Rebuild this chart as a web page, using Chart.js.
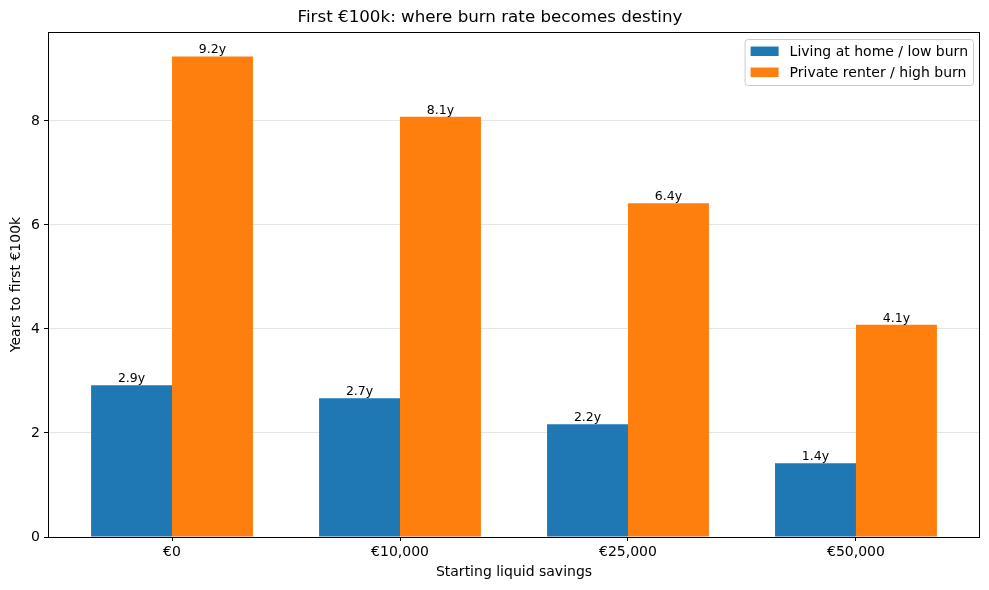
<!DOCTYPE html>
<html>
<head>
<meta charset="utf-8">
<script src="https://cdn.jsdelivr.net/npm/chart.js@4/dist/chart.umd.min.js"></script>
<style>
  html, body { margin: 0; padding: 0; background: #fff; }
</style>
</head>
<body>
<canvas id="chart" width="989" height="590"></canvas>
<script>
// data
const categories = ['€0', '€10,000', '€25,000', '€50,000'];
const lowBurn = [2.92, 2.67, 2.17, 1.42];
const highBurn = [9.24, 8.08, 6.42, 4.08];
const yTicks = [0, 2, 4, 6, 8];

const FONT = "'DejaVu Sans', sans-serif";

const frame = {
  id: 'frame',
  afterDraw(chart) {
    const { ctx, chartArea: a } = chart;
    ctx.save();
    ctx.strokeStyle = '#000';
    ctx.lineWidth = 1;
    ctx.strokeRect(Math.round(a.left) + 0.5, Math.round(a.top) + 0.5,
      Math.round(a.right - a.left) - 1, Math.round(a.bottom - a.top));
    ctx.restore();
  }
};

const barLabels = {
  id: 'barLabels',
  afterDatasetsDraw(chart) {
    const { ctx } = chart;
    ctx.save();
    ctx.font = '12.5px ' + FONT;
    ctx.fillStyle = '#000';
    ctx.textAlign = 'center';
    ctx.textBaseline = 'bottom';
    chart.data.datasets.forEach((ds, i) => {
      chart.getDatasetMeta(i).data.forEach((el, j) => {
        ctx.fillText(ds.data[j].y.toFixed(1) + 'y', el.x, el.y);
      });
    });
    ctx.restore();
  }
};

const innerLegend = {
  id: 'innerLegend',
  afterDraw(chart) {
    const { ctx, chartArea: a } = chart;
    const sets = chart.data.datasets;
    ctx.save();
    ctx.font = '14px ' + FONT;
    const textW = Math.max(...sets.map(d => ctx.measureText(d.label).width));
    const w = 45 + textW + 5, h = 46;
    const x = a.right - 7 - w, y = a.top + 7;
    ctx.beginPath();
    ctx.roundRect(x + 0.5, y + 0.5, w, h, 3);
    ctx.fillStyle = 'rgba(255,255,255,0.8)';
    ctx.fill();
    ctx.strokeStyle = '#cccccc';
    ctx.lineWidth = 1;
    ctx.stroke();
    sets.forEach((d, i) => {
      const cy = y + 12 + i * 21;
      ctx.fillStyle = d.backgroundColor;
      ctx.fillRect(x + 6, cy - 4.5, 28, 9.5);
      ctx.fillStyle = '#000';
      ctx.textBaseline = 'middle';
      ctx.fillText(d.label, x + 45, cy + 1);
    });
    ctx.restore();
  }
};

new Chart(document.getElementById('chart'), {
  type: 'bar',
  data: {
    datasets: [
      {
        label: 'Living at home / low burn',
        data: lowBurn.map((v, i) => ({ x: i, y: v })),
        backgroundColor: '#1f77b4',
      },
      {
        label: 'Private renter / high burn',
        data: highBurn.map((v, i) => ({ x: i, y: v })),
        backgroundColor: '#ff7f0e',
      },
    ],
  },
  options: {
    responsive: false,
    animation: false,
    categoryPercentage: 0.71,
    barPercentage: 1.0,
    layout: { padding: { top: 0, right: 9, bottom: 0, left: 0 } },
    plugins: {
      legend: { display: false },
      tooltip: { enabled: false },
      title: {
        display: true,
        text: 'First €100k: where burn rate becomes destiny',
        color: '#000',
        font: { family: FONT, size: 16.7, weight: 'normal' },
        padding: { top: 8, bottom: 4 },
      },
    },
    scales: {
      x: {
        type: 'linear',
        offset: false,
        min: -0.544,
        max: 3.544,
        afterBuildTicks: (s) => { s.ticks = categories.map((_, i) => ({ value: i })); },
        afterFit: (s) => { s.height = 53; },
        ticks: {
          color: '#000',
          font: { family: FONT, size: 14 },
          padding: 3,
          maxRotation: 0,
          callback: (v) => categories[v],
        },
        grid: { offset: false, drawOnChartArea: false, tickLength: 4, tickColor: '#000' },
        border: { display: false },
        title: {
          display: true,
          text: 'Starting liquid savings',
          color: '#000',
          font: { family: FONT, size: 14 },
          padding: { top: 0, bottom: 9 },
        },
      },
      y: {
        min: 0,
        max: 9.71,
        afterBuildTicks: (s) => { s.ticks = yTicks.map(v => ({ value: v })); },
        afterFit: (s) => { s.width = 48; },
        ticks: {
          color: '#000',
          font: { family: FONT, size: 14 },
          padding: 4,
        },
        grid: { color: 'rgba(0,0,0,0.1)', tickLength: 4, tickColor: '#000' },
        border: { display: false },
        title: {
          display: true,
          text: 'Years to first €100k',
          color: '#000',
          font: { family: FONT, size: 14 },
          padding: { top: 8, bottom: 0 },
        },
      },
    },
  },
  plugins: [frame, barLabels, innerLegend],
});
</script>
</body>
</html>
